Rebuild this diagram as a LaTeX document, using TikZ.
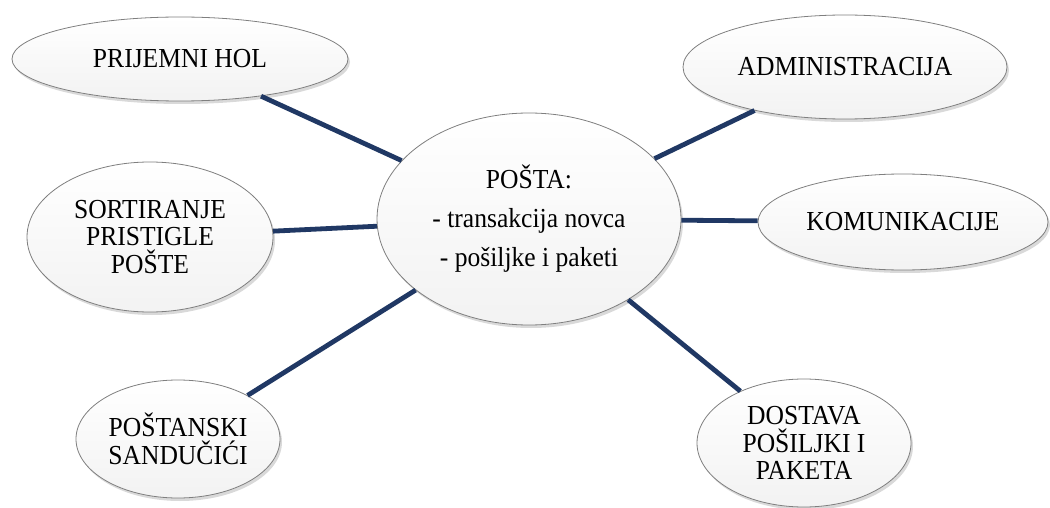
\documentclass[tikz,border=0pt]{standalone}
\usepackage{fontspec}
\setmainfont{Liberation Serif}[FakeStretch=0.93]
\usetikzlibrary{shapes.geometric,shadows}
\definecolor{linknavy}{HTML}{203864}
\definecolor{rimgray}{HTML}{7F7F7F}
\tikzset{
  bubble/.style={ellipse, draw=rimgray, line width=0.8pt, inner sep=0pt,
    top color=white, bottom color=black!5, align=center,
    font=\fontsize{27.5}{27.5}\selectfont,
    drop shadow={opacity=0.3, shadow xshift=2pt, shadow yshift=-3pt}},
  link/.style={draw=linknavy, line width=4.8pt}
}
\begin{document}
\begin{tikzpicture}[x=1pt,y=-1pt]
\useasboundingbox (0,0) rectangle (1050,508);
% outer topics
\node[bubble, minimum width=336pt, minimum height=84pt] (hol) at (180,59) {PRIJEMNI HOL};
\node[bubble, minimum width=324pt, minimum height=104pt] (admin) at (845,67) {ADMINISTRACIJA};
\node[bubble, minimum width=246pt, minimum height=150pt] (sort) at (150,237) {SORTIRANJE\\PRISTIGLE\\POŠTE};
\node[bubble, minimum width=290pt, minimum height=96pt] (kom) at (903,222) {KOMUNIKACIJE};
\node[bubble, minimum width=204pt, minimum height=118pt] (sand) at (178,439) {POŠTANSKI\\SANDUČIĆI};
\node[bubble, minimum width=214pt, minimum height=128pt] (dost) at (804,443) {DOSTAVA\\POŠILJKI I\\PAKETA};
% central topic
\node[bubble, minimum width=304pt, minimum height=212pt, font=\fontsize{27.5}{39}\selectfont] (posta) at (529,219)
  {POŠTA:\\- transakcija novca\\- pošiljke i paketi};
% connectors
\draw[link] (hol) -- (posta);
\draw[link] (admin) -- (posta);
\draw[link] (sort) -- (posta);
\draw[link] (kom) -- (posta);
\draw[link] (sand) -- (posta);
\draw[link] (dost) -- (posta);
\end{tikzpicture}
\end{document}
